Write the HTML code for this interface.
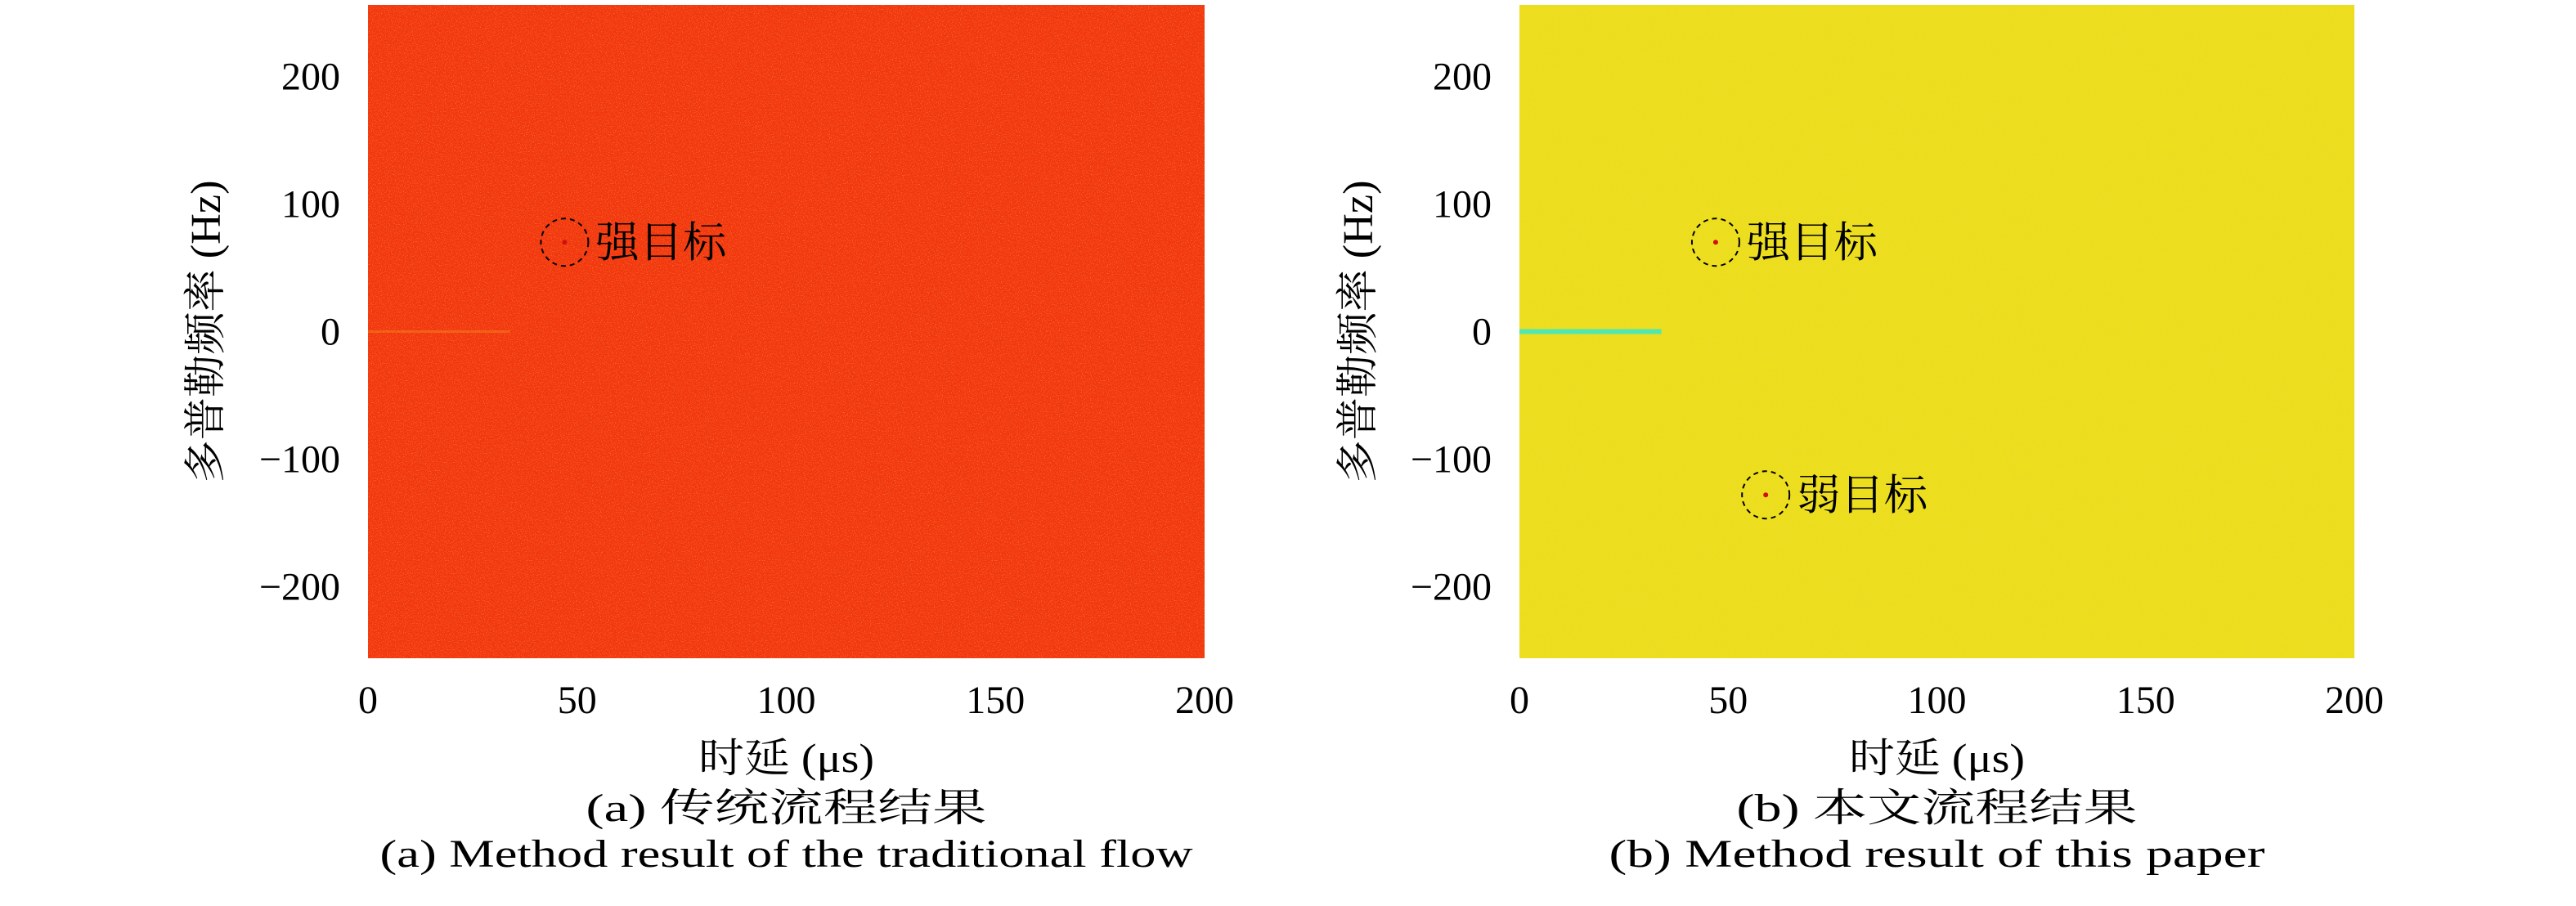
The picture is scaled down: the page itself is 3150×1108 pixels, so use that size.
<!DOCTYPE html>
<html><head><meta charset="utf-8"><style>
html,body{margin:0;padding:0;background:#fff;}
svg{display:block;}
</style></head><body>
<svg id="fig" width="3150" height="1108" viewBox="0 0 3150 1108">
<defs>
<filter id="noiseR" x="0" y="0" width="100%" height="100%">
<feTurbulence type="fractalNoise" baseFrequency="0.9" numOctaves="1" seed="3" result="t"/>
<feColorMatrix in="t" type="matrix" values="0 0 0 0 1  0 0 0 0 0.75  0 0 0 0 0.1  0 0 0 1.6 -0.85"/>
</filter>
<filter id="noiseY" x="0" y="0" width="100%" height="100%">
<feTurbulence type="fractalNoise" baseFrequency="0.9" numOctaves="1" seed="7" result="t"/>
<feColorMatrix in="t" type="matrix" values="0 0 0 0 0.95  0 0 0 0 0.55  0 0 0 0 0.1  0 0 0 1.6 -0.85"/>
</filter>
</defs>
</svg>
<script>
const xTicks=[0,50,100,150,200];
const yTicks=[200,100,0,-100,-200];
const xDomain=[0,200];
const yDomain=[-256,256];
const panelA_targets=[{x:47,y:70,label:"强目标"}];
const panelB_targets=[{x:47,y:70,label:"强目标"},{x:59,y:-128,label:"弱目标"}];
const panelB_clutter=[0,34];
const panelA_clutter=[0,34];
const captionsCN=["(a) 传统流程结果","(b) 本文流程结果"];
const captionsEN=["(a) Method result of the traditional flow","(b) Method result of this paper"];

const FONT='"Liberation Serif","DejaVu Serif","Noto Serif CJK SC",serif';
const NS="http://www.w3.org/2000/svg";
const svg=document.getElementById('fig');
function mk(tag,attrs,parent){const e=document.createElementNS(NS,tag);for(const k in attrs)e.setAttribute(k,attrs[k]);if(tag==='text')e.setAttribute('font-family',FONT);(parent||svg).appendChild(e);return e;}
const panels=[
 {x0:450,x1:1473,bg:"#f2360f",filt:"noiseR",targets:panelA_targets,clutter:panelA_clutter,clColor:"#f7a020",ylx:251,name:"a",enW:994,cnW:490},
 {x0:1858,x1:2879,bg:"#ecdf1c",filt:"noiseY",targets:panelB_targets,clutter:panelB_clutter,clColor:"#4fe8b0",ylx:1660,name:"b",enW:802,cnW:490}
];
const y0=6,y1=805;
panels.forEach((p,i)=>{
 const sx=v=>p.x0+(v-xDomain[0])/(xDomain[1]-xDomain[0])*(p.x1-p.x0);
 const sy=v=>y1-(v-yDomain[0])/(yDomain[1]-yDomain[0])*(y1-y0);
 const g=mk('g',{});
 
 
 const r=mk('rect',{x:p.x0,y:y0,width:p.x1-p.x0,height:y1-y0,fill:p.bg},g);
 
 
 mk('rect',{x:p.x0,y:y0,width:p.x1-p.x0,height:y1-y0,fill:"#fff",filter:"url(#"+p.filt+")"},g);
 const cl=mk('line',{x1:sx(p.clutter[0]),y1:sy(0),x2:sx(p.clutter[1]),y2:sy(0),stroke:p.clColor,"stroke-width":i?6:3,opacity:i?1:0.35},g);
 
 
 p.targets.forEach((t,j)=>{
  const cx=sx(t.x),cy=sy(t.y);
  const c=mk('circle',{cx:cx,cy:cy,r:29,fill:"none",stroke:"#000","stroke-width":2,"stroke-dasharray":"6 5"},g);
  
  
  mk('circle',{cx:cx,cy:cy,r:3,fill:"#d01010"},g);
  const tx=mk('text',{x:cx+38,y:cy+18,"font-size":52,textLength:160,lengthAdjust:"spacingAndGlyphs"},g);
  tx.textContent=t.label;
  
  
 });
 xTicks.forEach(v=>{
  const t=mk('text',{x:sx(v),y:872,"font-size":48,"text-anchor":"middle"},g);
  t.textContent=v;
  
  
 });
 yTicks.forEach(v=>{
  const t=mk('text',{x:p.x0-34,y:sy(v)+16,"font-size":48,"text-anchor":"end"},g);
  t.textContent=v<0?"\u2212"+(-v):v;
  
  
 });
 const xl=mk('text',{x:(p.x0+p.x1)/2,y:944,"font-size":50,"text-anchor":"middle",textLength:215,lengthAdjust:"spacingAndGlyphs"},g);
 xl.textContent="时延 (μs)";
 
 
 const yl=mk('text',{x:0,y:0,"font-size":52,"text-anchor":"middle",textLength:370,lengthAdjust:"spacingAndGlyphs",transform:"translate("+(p.ylx+18)+","+((y0+y1)/2)+") rotate(-90)"},g);
 yl.textContent="多普勒频率 (Hz)";
 
 
 const c1=mk('text',{x:(p.x0+p.x1)/2,y:1004,"font-size":48,"text-anchor":"middle",textLength:p.cnW,lengthAdjust:"spacingAndGlyphs"},g);
 c1.textContent=captionsCN[i];
 
 
 const c2=mk('text',{x:(p.x0+p.x1)/2,y:1060,"font-size":48,"text-anchor":"middle",textLength:p.enW,lengthAdjust:"spacingAndGlyphs"},g);
 c2.textContent=captionsEN[i];
 
 
});
</script>
</body></html>
